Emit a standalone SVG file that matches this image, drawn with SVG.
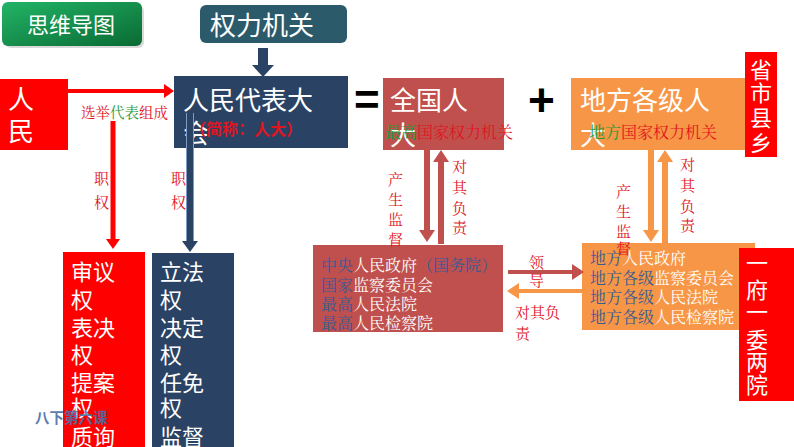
<svg xmlns="http://www.w3.org/2000/svg" width="794" height="447" viewBox="0 0 794 447">
<style>
.cjk{font-family:"Noto Sans CJK SC","Liberation Sans",sans-serif;}
.ser{font-family:"Noto Serif CJK SC","Noto Sans CJK SC",serif;}
.wt{fill:#ffffff;}
.lab{fill:#e0141e;font-size:15px;}
.grn{fill:#1f9a3a;}
.blu{fill:#3a5a94;}
.bx{font-size:16px;}
</style>
<defs>
<linearGradient id="g1" x1="0" y1="0" x2="1" y2="1">
<stop offset="0" stop-color="#22b466"/>
<stop offset="1" stop-color="#0a6a33"/>
</linearGradient>
<marker id="ah-red" markerUnits="userSpaceOnUse" markerWidth="10" markerHeight="14" refX="0" refY="7" orient="auto"><path d="M0,0 L10,7 L0,14 z" fill="#ff0000"/></marker>
<marker id="ah-navy" markerUnits="userSpaceOnUse" markerWidth="11" markerHeight="16" refX="0" refY="8" orient="auto"><path d="M0,0 L11,8 L0,16 z" fill="#2a4365"/></marker>
<marker id="ah-rust" markerUnits="userSpaceOnUse" markerWidth="12" markerHeight="16" refX="0" refY="8" orient="auto"><path d="M0,0 L12,8 L0,16 z" fill="#c0504d"/></marker>
<marker id="ah-orange" markerUnits="userSpaceOnUse" markerWidth="12" markerHeight="16" refX="0" refY="8" orient="auto"><path d="M0,0 L12,8 L0,16 z" fill="#f79646"/></marker>
</defs>
<rect width="794" height="447" fill="#ffffff"/>

<g id="title">
<rect x="3" y="3" width="139" height="43" rx="6" fill="#000" opacity="0.15" transform="translate(2,2)"/>
<rect x="2" y="2" width="140" height="44" rx="6" fill="url(#g1)"/>
<text x="27" y="33" class="cjk wt" font-size="22">思维导图</text>
</g>

<g id="quanli">
<rect x="200" y="5" width="147" height="38" rx="6" fill="#2b5a6b"/>
<text x="210" y="35" class="cjk wt" font-size="26">权力机关</text>
</g>

<g id="renmin">
<rect x="0" y="79" width="68" height="71" fill="#ff0000"/>
<text x="8" y="109" class="cjk wt" font-size="26">人</text>
<text x="8" y="141" class="cjk wt" font-size="26">民</text>
</g>

<g id="renda">
<rect x="174" y="76" width="174" height="72" fill="#2a4365"/>
<text x="183" y="110" class="cjk wt" font-size="26">人民代表大</text>
<text x="183" y="143" class="cjk wt" font-size="26">会</text>
<text x="190" y="135" class="cjk" font-size="16" font-weight="bold" fill="#e0141e">（简称：人大）</text>
</g>

<g id="ops">
<text x="354" y="115" font-family="Liberation Sans, sans-serif" font-size="44" font-weight="bold" fill="#000">=</text>
<text x="528" y="116" font-family="Liberation Sans, sans-serif" font-size="46" font-weight="bold" fill="#000">+</text>
</g>

<g id="quanguo">
<rect x="383" y="78" width="121" height="72" fill="#c0504d"/>
<text x="390" y="110" class="cjk wt" font-size="26">全国人</text>
<text x="390" y="145" class="cjk wt" font-size="26">大</text>
<text x="385" y="138" class="ser" font-size="16"><tspan class="grn">最高</tspan><tspan fill="#e0141e">国家权力机关</tspan></text>
</g>

<g id="difang">
<rect x="571" y="78" width="174" height="72" fill="#f79646"/>
<text x="580" y="110" class="cjk wt" font-size="26">地方各级人</text>
<text x="580" y="145" class="cjk wt" font-size="26">大</text>
<text x="589" y="138" class="ser" font-size="16"><tspan class="grn">地方</tspan><tspan fill="#e0141e">国家权力机关</tspan></text>
</g>

<g id="shengshi">
<rect x="745" y="52" width="32" height="105" fill="#ff0000"/>
<text x="750" y="78" class="cjk wt" font-size="22">省</text>
<text x="750" y="101" class="cjk wt" font-size="22">市</text>
<text x="750" y="126" class="cjk wt" font-size="22">县</text>
<text x="750" y="151" class="cjk wt" font-size="22">乡</text>
</g>

<g id="shenyi">
<rect x="63" y="252" width="82" height="195" fill="#ff0000"/>
<g class="cjk wt" font-size="22">
<text x="71" y="280">审议</text>
<text x="71" y="308">权</text>
<text x="71" y="336">表决</text>
<text x="71" y="363">权</text>
<text x="71" y="391">提案</text>
<text x="71" y="416">权</text>
<text x="71" y="445">质询</text>
</g>
</g>

<g id="lifa">
<rect x="152" y="253" width="82" height="194" fill="#2a4365"/>
<g class="cjk wt" font-size="22">
<text x="160" y="280">立法</text>
<text x="160" y="308">权</text>
<text x="160" y="336">决定</text>
<text x="160" y="363">权</text>
<text x="160" y="391">任免</text>
<text x="160" y="416">权</text>
<text x="160" y="445">监督</text>
</g>
</g>

<g id="zhongyang">
<rect x="313" y="245" width="190" height="87" fill="#c0504d"/>
<g class="ser bx">
<text x="321" y="271"><tspan class="blu">中央</tspan><tspan class="wt">人民政府</tspan><tspan class="blu">（国务院）</tspan></text>
<text x="321" y="291"><tspan class="blu">国家</tspan><tspan class="wt">监察委员会</tspan></text>
<text x="321" y="310"><tspan class="blu">最高</tspan><tspan class="wt">人民法院</tspan></text>
<text x="321" y="329"><tspan class="blu">最高</tspan><tspan class="wt">人民检察院</tspan></text>
</g>
</g>

<g id="difangjiguan">
<rect x="582" y="243" width="173" height="87" fill="#f79646"/>
<g class="ser bx">
<text x="590" y="264"><tspan class="blu">地方</tspan><tspan class="wt">人民政府</tspan></text>
<text x="590" y="284"><tspan class="blu">地方各级</tspan><tspan class="wt">监察委员会</tspan></text>
<text x="590" y="303"><tspan class="blu">地方各级</tspan><tspan class="wt">人民法院</tspan></text>
<text x="590" y="323"><tspan class="blu">地方各级</tspan><tspan class="wt">人民检察院</tspan></text>
</g>
</g>

<g id="yifu">
<rect x="739" y="248" width="55" height="153" fill="#ff0000"/>
<g class="cjk wt" font-size="22">
<text x="746" y="271">一</text>
<text x="746" y="298">府</text>
<text x="746" y="320">一</text>
<text x="746" y="348">委</text>
<text x="746" y="370">两</text>
<text x="746" y="393">院</text>
</g>
</g>

<g id="connectors">
<polygon points="258,48 268,48 268,65 274,65 263,77 252,65 258,65" fill="#2a4365"/>
<line x1="68" y1="91" x2="164" y2="91" stroke="#ff0000" stroke-width="4" marker-end="url(#ah-red)"/>
<line x1="113" y1="121" x2="113" y2="239" stroke="#ff0000" stroke-width="5" marker-end="url(#ah-red)"/>
<line x1="190" y1="113" x2="190" y2="241" stroke="#7f9cc4" stroke-width="8"/>
<line x1="190" y1="113" x2="190" y2="241" stroke="#2a4365" stroke-width="6" marker-end="url(#ah-navy)"/>
<line x1="427" y1="150" x2="427" y2="230" stroke="#c0504d" stroke-width="6" marker-end="url(#ah-rust)"/>
<line x1="441" y1="244" x2="441" y2="162" stroke="#c0504d" stroke-width="6" marker-end="url(#ah-rust)"/>
<line x1="651" y1="150" x2="651" y2="230" stroke="#f79646" stroke-width="6" marker-end="url(#ah-orange)"/>
<line x1="665" y1="243" x2="665" y2="162" stroke="#f79646" stroke-width="6" marker-end="url(#ah-orange)"/>
<line x1="508" y1="272" x2="572" y2="272" stroke="#c0504d" stroke-width="4" marker-end="url(#ah-rust)"/>
<line x1="583" y1="291" x2="519" y2="291" stroke="#f79646" stroke-width="4" marker-end="url(#ah-orange)"/>
</g>

<g id="labels" class="ser">
<text x="81" y="118" font-size="14.5"><tspan fill="#e0141e">选举</tspan><tspan class="grn">代表</tspan><tspan fill="#e0141e">组成</tspan></text>
<text x="94" y="184" class="lab" font-size="17">职</text>
<text x="94" y="208" class="lab" font-size="17">权</text>
<text x="171" y="184" class="lab" font-size="17">职</text>
<text x="171" y="208" class="lab" font-size="17">权</text>
<text x="388" y="185" class="lab">产</text>
<text x="388" y="205" class="lab">生</text>
<text x="388" y="225" class="lab">监</text>
<text x="388" y="245" class="lab">督</text>
<text x="452" y="172" class="lab">对</text>
<text x="452" y="193" class="lab">其</text>
<text x="452" y="214" class="lab">负</text>
<text x="452" y="233" class="lab">责</text>
<text x="616" y="197" class="lab">产</text>
<text x="616" y="217" class="lab">生</text>
<text x="616" y="237" class="lab">监</text>
<text x="616" y="254" class="lab">督</text>
<text x="680" y="170" class="lab">对</text>
<text x="680" y="191" class="lab">其</text>
<text x="680" y="212" class="lab">负</text>
<text x="680" y="231" class="lab">责</text>
<text x="529" y="268" class="lab" font-size="16">领</text>
<text x="529" y="286" class="lab" font-size="16">导</text>
<text x="515" y="318" class="lab" font-size="16">对其负</text>
<text x="515" y="339" class="lab" font-size="16">责</text>
</g>

<g id="footer">
<text x="35" y="423" class="cjk" font-size="14.5" font-weight="bold" fill="#4a6fa5" opacity="0.9">八下第六课</text>
</g>
</svg>
